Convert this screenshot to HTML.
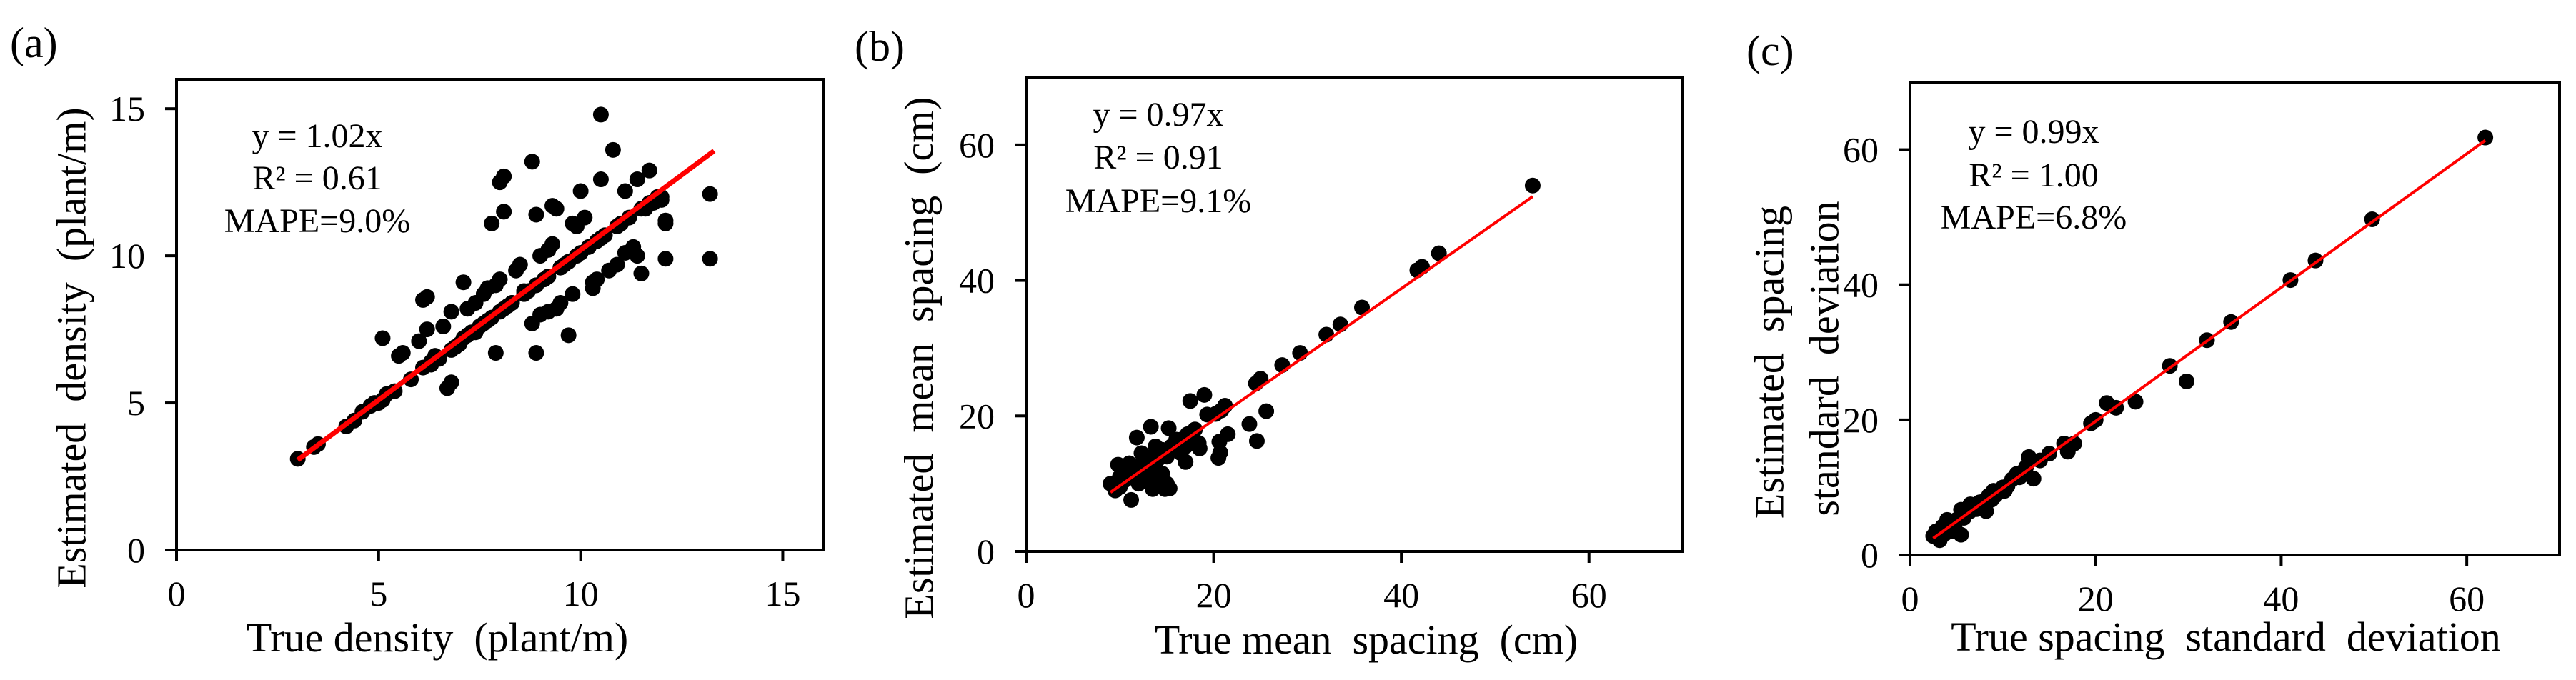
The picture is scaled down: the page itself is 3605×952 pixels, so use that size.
<!DOCTYPE html>
<html><head><meta charset="utf-8"><style>
html,body{margin:0;padding:0;background:#fff;}
svg{display:block;font-family:"Liberation Serif","Times New Roman",serif;}
text{white-space:pre;fill:#000;}
</style></head><body>
<svg id="fig" width="3605" height="952" viewBox="0 0 3605 952" xmlns="http://www.w3.org/2000/svg"></svg>
<script>
// Panel (a) data
const aTrue=[3.0,3.4,3.5,4.2,4.6,4.8,5.0,5.1,5.2,5.1,5.5,5.6,6.0,6.1,6.2,6.2,6.1,6.3,6.4,6.6,6.7,6.8,6.8,6.8,6.9,7.0,7.1,7.1,7.2,7.3,7.4,7.5,7.6,7.7,7.6,7.8,7.8,7.9,7.9,8.0,8.1,8.1,8.0,8.1,8.3,8.4,8.5,8.6,8.8,8.8,8.9,8.9,8.9,9.0,9.0,9.1,9.2,9.2,9.3,9.3,9.4,9.4,9.5,9.6,9.7,9.8,9.8,9.9,10.0,10.0,10.1,10.3,10.3,10.4,10.5,10.5,10.5,10.7,10.8,10.9,11.0,11.1,11.1,11.3,11.4,11.4,11.5,11.6,11.7,11.8,12.0,12.1,12.1,12.1,13.2,13.2,12.0,10.2,9.5,8.7,8.2,7.2,
  5.4,5.8,6.3,6.5,6.9,7.4,7.7,8.0,8.3,8.6,8.9,9.2,9.5,9.7,9.9,10.2,10.4,10.6,10.9,11.2,11.5,11.7,11.9,4.9,4.4];
const aEst=[3.1,3.5,3.6,4.2,4.7,4.9,5.0,5.1,5.3,7.2,6.6,6.7,7.1,8.5,8.6,7.5,6.2,6.4,6.6,7.6,5.5,5.7,8.1,6.8,6.9,7.0,7.2,9.1,8.2,7.4,8.4,7.6,8.7,8.9,7.7,7.9,11.1,6.7,9.0,12.5,12.7,11.5,9.2,8.2,8.4,9.5,9.7,8.8,13.2,7.7,11.4,9.0,6.7,10.0,8.0,9.2,10.2,8.1,10.4,11.7,11.6,8.2,8.4,9.7,7.3,11.1,8.7,11.0,12.2,10.1,11.3,8.9,9.1,9.2,10.6,12.6,14.8,9.5,13.6,9.7,11.1,12.2,10.1,10.3,12.6,10.0,9.4,11.6,12.9,11.8,12.0,11.1,9.9,11.2,12.1,9.9,11.9,10.3,9.6,8.8,8.3,7.3,
  5.4,5.8,6.3,6.5,6.9,7.4,7.8,8.1,8.4,8.7,9.0,9.3,9.6,9.8,10.0,10.3,10.5,10.7,11.0,11.3,11.6,11.8,12.0,5.0,4.4];
const aTicks=[0,5,10,15];
// Panel (b) data
const bTrue=[54,44,42.2,41.7,35.8,33.5,32,29.2,27.3,25,24.5,25.6,24.6,23.8,21.2,20.8,20.2,19.0,19.3,17.5,18.0,17.2,21.5,20.6,20.5,20.7,18.5,18.4,17.0,16.5,15.2,13.3,11.8,14.8,15.3,13.5,11.2,9.0,9.5,9.8,10,10.5,11,11.5,12,12.5,13,13.5,14,14.5,15,15.5,16,16.5,12,13,14,15,14.5,10.5,11,12.3,13.8,16,17,12.5,13.5,10,11.8];
const bEst=[54,44,42,41.5,36,33.5,32,29.3,27.5,25.5,24.8,20.7,16.3,18.8,21.5,20.8,20.3,23.1,20.2,22.2,18.0,17.3,17.3,16.2,13.8,14.6,15.2,16.0,13.2,14.5,18.2,18.4,16.8,9.2,9.3,9.2,7.6,10.0,9.0,12.8,11,10.5,12,11,12.5,13,12,14,13.5,15,14,15.5,15,16.5,10,10.5,11,10,11.5,12,13,14.5,15.5,16.5,15.5,11.2,12.8,9.5,10.5];
const bTicks=[0,20,40,60];
// Panel (c) data
const cTrue=[62,49.8,43.7,41,34.6,32,28,29.8,24.3,22.2,21.2,20,19.5,17.7,17,16.6,15,14,13.3,12.8,12.5,12,11.5,11,10.5,10,9.5,9,8.8,8.5,8,7.5,8.2,7,6.5,6,5.8,5.5,5,5.5,4.5,4,3.5,3.2,3,2.8,2.5,3.2,4,4.5,6.5,7.2,9.2,10.2,11.8,4.8,3.8];
const cEst=[61.8,49.7,43.6,40.7,34.5,31.8,28,25.7,22.7,21.8,22.5,20,19.5,16.5,15.3,16.5,15,14,11.3,14.5,13,12.2,12,11.2,10.2,10,9.3,9.5,8.2,8.8,8,7.8,6.5,7.3,6.5,6.5,5.5,6.7,5.2,3,4.8,4,4.2,3.5,3,3.5,2.8,2.2,5.2,3.5,7.5,6.8,8.8,9.5,11.5,4.2,3.2];
const cTicks=[0,20,40,60];

const NS="http://www.w3.org/2000/svg";
const svg=document.getElementById('fig');
function mk(tag,attrs,parent,txt){const e=document.createElementNS(NS,tag);for(const k in attrs)e.setAttribute(k,attrs[k]);if(txt!==undefined)e.textContent=txt;(parent||svg).appendChild(e);return e;}

function panel(o){
  const g=mk('g',{});
  
  
  const sx=v=>o.L+(v-o.min)/(o.max-o.min)*(o.R-o.L);
  const sy=v=>o.B-(v-o.min)/(o.max-o.min)*(o.B-o.T);
  const pts=mk('g',{},g);
  
  
  for(let i=0;i<o.xs.length;i++){
    const c=mk('circle',{cx:sx(o.xs[i]),cy:sy(o.ys[i]),r:11,fill:'#000'},pts);
    
    
  }
  const ln=mk('line',{x1:sx(o.fit[0]),y1:sy(o.fit[0]*o.slope),x2:sx(o.fit[1]),y2:sy(o.fit[1]*o.slope),stroke:'#ff0000','stroke-width':o.lw},g);
  
  
  const fr=mk('rect',{x:o.L,y:o.T,width:o.R-o.L,height:o.B-o.T,fill:'none',stroke:'#000','stroke-width':4},g);
  
  
  o.ticks.forEach(t=>{
    mk('line',{x1:sx(t),y1:o.B,x2:sx(t),y2:o.B+16,stroke:'#000','stroke-width':4},g);
    const xl=mk('text',{x:sx(t),y:o.B+78,'font-size':50,'text-anchor':'middle'},g,String(t));
    
    
    mk('line',{x1:o.L-16,y1:sy(t),x2:o.L,y2:sy(t),stroke:'#000','stroke-width':4},g);
    const yl=mk('text',{x:o.L-44,y:sy(t)+17,'font-size':50,'text-anchor':'end'},g,String(t));
    
    
  });
  o.ann.forEach((s,i)=>{
    const t=mk('text',{x:o.annX,y:o.annY[i],'font-size':48,'text-anchor':'middle'},g,s);
    
    
  });
  const pl=mk('text',{x:o.lab[0],y:o.lab[1],'font-size':60},g,o.label);
  
  
  const xt=mk('text',{x:o.xt[0],y:o.xt[1],'font-size':58,'text-anchor':'middle'},g,o.xtitle);
  
  
  o.ytitle.forEach((s,i)=>{
    const yt=mk('text',{x:0,y:0,'font-size':58,'text-anchor':'middle','dominant-baseline':'central',transform:`translate(${o.yt[i][0]},${o.yt[i][1]}) rotate(-90)`},g,s);
    
    
  });
}

panel({id:'a',L:247,R:1152,T:111,B:770,min:0,max:16,xs:aTrue,ys:aEst,ticks:aTicks,slope:1.02,fit:[3.0,13.3],lw:7,
  ann:['y = 1.02x','R² = 0.61','MAPE=9.0%'],annX:444,annY:[206,265,325],label:'(a)',lab:[14,80],
  xtitle:'True density  (plant/m)',xt:[612,912],ytitle:['Estimated  density  (plant/m)'],yt:[[100,487]]});
panel({id:'b',L:1436,R:2355,T:108,B:772,min:0,max:70,xs:bTrue,ys:bEst,ticks:bTicks,slope:0.97,fit:[9,54],lw:4,
  ann:['y = 0.97x','R² = 0.91','MAPE=9.1%'],annX:1621,annY:[176,236,297],label:'(b)',lab:[1196,85],
  xtitle:'True mean  spacing  (cm)',xt:[1912,915],ytitle:['Estimated  mean  spacing  (cm)'],yt:[[1286,501]]});
panel({id:'c',L:2673,R:3582,T:115,B:777,min:0,max:70,xs:cTrue,ys:cEst,ticks:cTicks,slope:0.99,fit:[2.5,62],lw:4,
  ann:['y = 0.99x','R² = 1.00','MAPE=6.8%'],annX:2846,annY:[200,261,320],label:'(c)',lab:[2444,91],
  xtitle:'True spacing  standard  deviation',xt:[3115,911],ytitle:['Estimated  spacing','standard  deviation'],yt:[[2476,507],[2553,502]]});
</script>
</body></html>
